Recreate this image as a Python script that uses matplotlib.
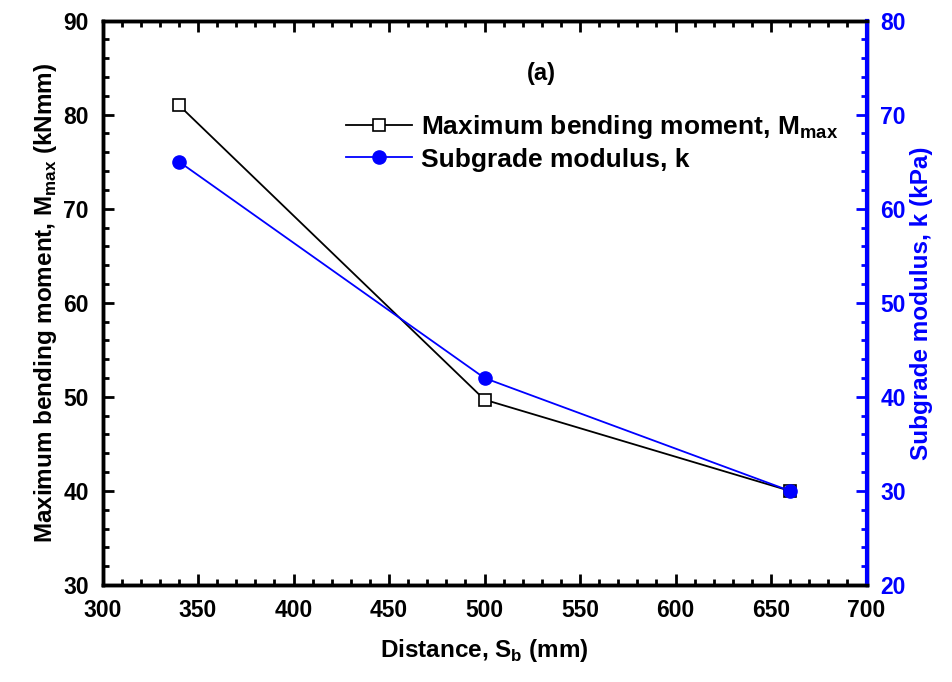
import numpy as np
import matplotlib
matplotlib.use('Agg')
import matplotlib.pyplot as plt
from matplotlib.ticker import MultipleLocator

plt.rcParams['font.family'] = ['Liberation Sans', 'DejaVu Sans']
plt.rcParams['font.weight'] = 'bold'
plt.rcParams['mathtext.fontset'] = 'custom'
plt.rcParams['mathtext.rm'] = 'Liberation Sans:bold'
plt.rcParams['mathtext.bf'] = 'Liberation Sans:bold'

# data
distance = [340, 500, 660]
m_max = [81.0, 49.7, 40.0]
subgrade_k = [65.0, 42.0, 30.0]

fig = plt.figure(figsize=(9.52, 6.82), dpi=100)
ax = fig.add_axes([0.1077, 0.1422, 0.8025, 0.8277])
ax2 = ax.twinx()

l1, = ax.plot(distance, m_max, color='black', lw=1.3, marker='s', ms=8,
              mfc='white', mec='black', mew=1.2,
              label=r'Maximum bending moment, M$_{\mathrm{max}}$')
l2, = ax2.plot(distance, subgrade_k, color='blue', lw=1.3, marker='o', ms=9.5,
               mfc='blue', mec='blue',
               label='Subgrade modulus, k')

ax.set_xlim(300, 700)
ax.set_ylim(30, 90)
ax2.set_ylim(20, 80)

ax.xaxis.set_major_locator(MultipleLocator(50))
ax.xaxis.set_minor_locator(MultipleLocator(10))
ax.yaxis.set_major_locator(MultipleLocator(10))
ax.yaxis.set_minor_locator(MultipleLocator(2))
ax2.yaxis.set_major_locator(MultipleLocator(10))
ax2.yaxis.set_minor_locator(MultipleLocator(2))

for s in ax.spines.values():
    s.set_linewidth(2.5)
for s in ax2.spines.values():
    s.set_linewidth(2.5)
ax2.spines['right'].set_color('blue')
ax2.spines['right'].set_linewidth(3)

ax.tick_params(which='both', direction='in', top=True, right=False, width=2, labelsize=16.5)
ax.tick_params(which='major', length=8)
ax.tick_params(which='minor', length=4)
ax.tick_params(axis='x', pad=10)
ax.tick_params(axis='y', pad=10)
ax2.tick_params(which='both', direction='in', color='blue', labelcolor='blue', width=2,
                labelsize=16.5, pad=10)
ax2.tick_params(which='major', length=8)
ax2.tick_params(which='minor', length=4)

ax.set_xlabel(r'Distance, S$_{\mathrm{b}}$ (mm)', fontsize=17.5, fontweight='bold', labelpad=11)
ax.set_ylabel(r'Maximum bending moment, M$_{\mathrm{max}}$ (kNmm)', fontsize=17.5, fontweight='bold', labelpad=3)
ax2.set_ylabel('Subgrade modulus, k (kPa)', fontsize=17.5, fontweight='bold', color='blue', labelpad=3)

ax.text(0.574, 0.906, '(a)', transform=ax.transAxes, ha='center', va='center', fontsize=17, fontweight='bold')

ax2.legend(handles=[l1, l2], loc='upper left', bbox_to_anchor=(0.305, 0.855), frameon=False,
           fontsize=19, handlelength=2.5, handletextpad=0.35, labelspacing=0.25, borderaxespad=0)

fig.savefig('out.png', dpi=100)
